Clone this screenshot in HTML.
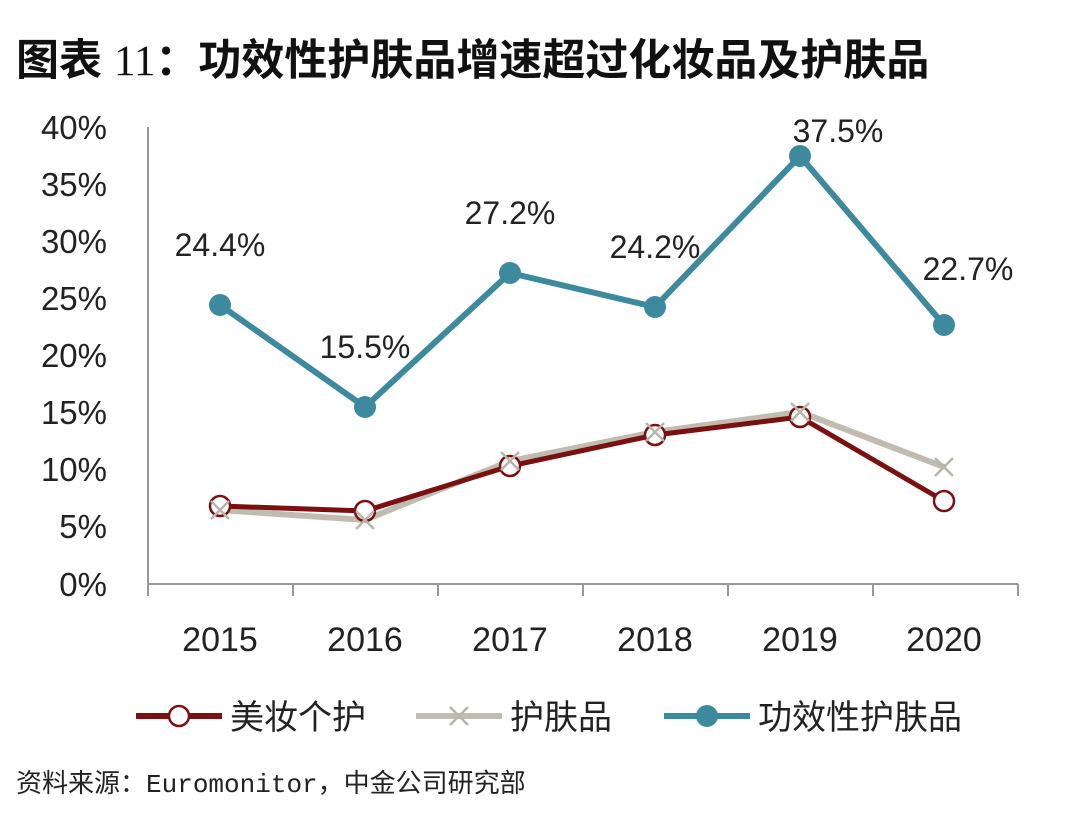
<!DOCTYPE html>
<html><head><meta charset="utf-8"><style>
html,body{margin:0;padding:0;background:#fff;}
body{width:1080px;height:829px;overflow:hidden;}
</style></head><body>
<svg width="1080" height="829" viewBox="0 0 1080 829" xmlns="http://www.w3.org/2000/svg">
<g font-family="'Liberation Sans','Noto Sans CJK SC',sans-serif">
<text x="16" y="75" font-size="43" font-weight="bold" fill="#111">图表 <tspan font-family="'Liberation Serif','Noto Serif CJK SC',serif" font-weight="normal">11</tspan>：功效性护肤品增速超过化妆品及护肤品</text>
<g font-size="33" fill="#222" text-anchor="end">
<text x="107" y="139">40%</text><text x="107" y="196">35%</text><text x="107" y="253">30%</text><text x="107" y="310">25%</text><text x="107" y="367">20%</text><text x="107" y="424">15%</text><text x="107" y="481">10%</text><text x="107" y="538">5%</text><text x="107" y="596">0%</text>
</g>
<line x1="148" y1="127" x2="148" y2="596" stroke="#999" stroke-width="2"/>
<line x1="147" y1="584" x2="1018" y2="584" stroke="#999" stroke-width="2"/>
<g stroke="#999" stroke-width="2">
<line x1="293" y1="584" x2="293" y2="596"/><line x1="438" y1="584" x2="438" y2="596"/><line x1="583" y1="584" x2="583" y2="596"/><line x1="728" y1="584" x2="728" y2="596"/><line x1="873" y1="584" x2="873" y2="596"/><line x1="1018" y1="584" x2="1018" y2="596"/>
</g>
<g font-size="34" fill="#222" text-anchor="middle">
<text x="220" y="651">2015</text><text x="365" y="651">2016</text><text x="510" y="651">2017</text><text x="655" y="651">2018</text><text x="800" y="651">2019</text><text x="944" y="651">2020</text>
</g>
<polyline points="220,510 365,520 510,461 655,432 800,412 944,467" fill="none" stroke="#c0bdb0" stroke-width="6"/>
<polyline points="220,506 365,511 510,466 655,435 800,417 944,501" fill="none" stroke="#7a1010" stroke-width="5"/>
<g fill="#fff" stroke="#7a1010" stroke-width="2.5">
<circle cx="220" cy="506" r="10"/><circle cx="365" cy="511" r="10"/><circle cx="510" cy="466" r="10"/><circle cx="655" cy="435" r="10"/><circle cx="800" cy="417" r="10"/><circle cx="944" cy="501" r="10"/>
</g>
<g stroke="#b8b5aa" stroke-width="2.5">
<path d="M211,501l18,18M229,501l-18,18"/><path d="M356,511l18,18M374,511l-18,18"/><path d="M501,452l18,18M519,452l-18,18"/><path d="M646,423l18,18M664,423l-18,18"/><path d="M791,403l18,18M809,403l-18,18"/><path d="M935,458l18,18M953,458l-18,18"/>
</g>
<polyline points="220,305 365,407 510,273 655,307 800,156 944,325" fill="none" stroke="#3d8a9e" stroke-width="6"/>
<g fill="#3d8a9e">
<circle cx="220" cy="305" r="11"/><circle cx="365" cy="407" r="11"/><circle cx="510" cy="273" r="11"/><circle cx="655" cy="307" r="11"/><circle cx="800" cy="156" r="11"/><circle cx="944" cy="325" r="11"/>
</g>
<g font-size="32" fill="#222" text-anchor="middle">
<text x="220" y="256">24.4%</text><text x="365" y="358">15.5%</text><text x="510" y="224">27.2%</text><text x="655" y="258">24.2%</text><text x="838" y="142">37.5%</text><text x="968" y="280">22.7%</text>
</g>
<line x1="136" y1="716" x2="222" y2="716" stroke="#7a1010" stroke-width="6"/>
<circle cx="179" cy="716" r="10" fill="#fff" stroke="#7a1010" stroke-width="2.5"/>
<text x="230" y="729" font-size="34" fill="#222">美妆个护</text>
<line x1="416" y1="716" x2="502" y2="716" stroke="#c0bdb0" stroke-width="6"/>
<path d="M450,707l18,18M468,707l-18,18" stroke="#b8b5aa" stroke-width="2.5"/>
<text x="510" y="729" font-size="34" fill="#222">护肤品</text>
<line x1="664" y1="716" x2="750" y2="716" stroke="#3d8a9e" stroke-width="6"/>
<circle cx="707" cy="716" r="11" fill="#3d8a9e"/>
<text x="758" y="729" font-size="34" fill="#222">功效性护肤品</text>
<text x="16" y="792" font-size="26" fill="#222">资料来源：<tspan font-family="'Liberation Mono',monospace">Euromonitor</tspan>，中金公司研究部</text>
</g>
</svg>
</body></html>
